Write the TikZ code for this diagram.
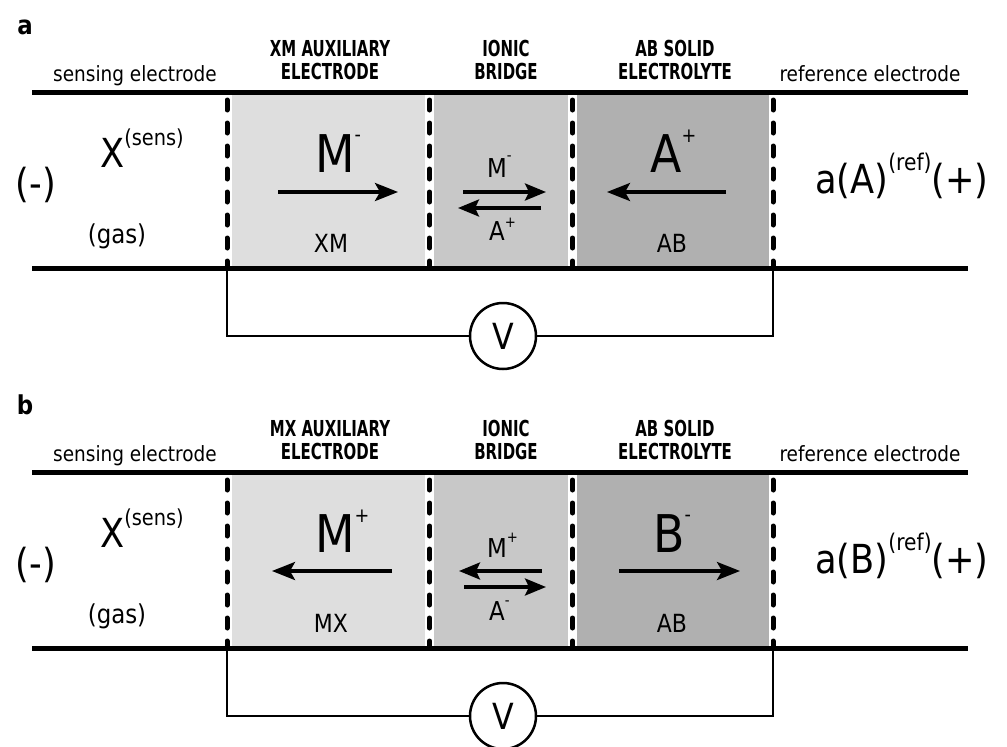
\documentclass[tikz,border=0pt]{standalone}
\usepackage{fontspec}
\setmainfont{DejaVu Sans}[FakeStretch=0.88]
\newfontfamily\hdrfont{DejaVu Sans}[FakeStretch=0.68]
\usetikzlibrary{arrows.meta}
\newcommand\fsz[1]{\fontsize{#1pt}{#1pt}\selectfont}
\definecolor{xmgray}{HTML}{DEDEDE}
\definecolor{brgray}{HTML}{C8C8C8}
\definecolor{abgray}{HTML}{B0B0B0}
\tikzset{
  rail/.style={line width=5pt},
  wire/.style={line width=2.5pt},
  sepline/.style={line width=5pt, dash pattern=on 10pt off 13pt, line cap=round},
  gapline/.style={line width=9pt, white},
  bigarrow/.style={line width=3.5pt, -{Stealth[length=23pt,width=18pt,inset=5pt]}},
  smallarrow/.style={line width=3.5pt, -{Stealth[length=21pt,width=17pt,inset=4pt]}},
  lbl/.style={inner sep=0pt, anchor=base},
  lblw/.style={inner sep=0pt, anchor=base west},
  hdr/.style={inner sep=0pt, anchor=base, align=center, font=\hdrfont\bfseries\fontsize{22pt}{23pt}\selectfont},
  small/.style={font=\fsz{21}},
  meter/.style={circle, draw, line width=2.5pt, minimum size=66pt, inner sep=0pt, font=\fsz{36}, fill=white},
}
\begin{document}
\begin{tikzpicture}[x=1pt,y=-1pt]
\useasboundingbox (0,0) rectangle (1007,747);
\fill[white] (0,0) rectangle (1007,747);

% ================= panel a =================
\begin{scope}
\node[lbl, font=\bfseries\fsz{26}] (a-tag) at (25,34) {a};
\fill[xmgray] (227,92) rectangle (429.5,268);
\fill[brgray] (429.5,92) rectangle (572.5,268);
\fill[abgray] (572.5,92) rectangle (773,268);
\foreach \x/\n in {227/1,429.5/2,572.5/3,773/4}{
  \coordinate (a-s\n-t) at (\x,94);
  \coordinate (a-s\n-b) at (\x,266);
  \draw[gapline] (a-s\n-t) -- (a-s\n-b);
  \draw[sepline] ([yshift=-6pt]a-s\n-t) -- (a-s\n-b);
}
\coordinate (a-tl) at (32,92);
\coordinate (a-tr) at (968,92);
\coordinate (a-bl) at (32,268);
\coordinate (a-br) at (968,268);
\draw[rail] (a-tl) -- (a-tr);
\draw[rail] (a-bl) -- (a-br);
% voltmeter
\coordinate (a-cl) at (227,268);
\coordinate (a-cr) at (773,268);
\node[meter] (a-V) at (503,336) {V};
\draw[wire] (a-cl) |- (a-V.west);
\draw[wire] (a-V.east) -| (a-cr);
% headers
\node[lbl, small] (a-sensing) at (135,81) {sensing electrode};
\node[lbl, small] (a-reference) at (870,81) {reference electrode};
\node[hdr] (a-h1) at (330,79) {XM AUXILIARY\\ELECTRODE};
\node[hdr] (a-h2) at (506,79) {IONIC\\BRIDGE};
\node[hdr] (a-h3) at (675,79) {AB SOLID\\ELECTROLYTE};
% left side
\node[lbl, font=\fsz{40}] (a-minus) at (36,197) {(-)};
\node[lblw] (a-X) at (100,167) {{\fsz{40}X}\raisebox{22pt}{\fsz{22}(sens)}};
\node[lbl, font=\fsz{26}] (a-gas) at (117,243) {(gas)};
% XM box
\node[lblw] (a-M) at (315,172) {{\fsz{52}M}\raisebox{31pt}{\fsz{20}-}};
\coordinate (a-m1) at (278,192);
\coordinate (a-m2) at (398,192);
\draw[bigarrow] (a-m1) -- (a-m2);
\node[lbl, font=\fsz{25}] (a-XM) at (331,252) {XM};
% bridge
\node[lblw] (a-bM) at (487,177) {{\fsz{26}M}\raisebox{17pt}{\fsz{15}-}};
\coordinate (a-b1) at (463,192);
\coordinate (a-b2) at (546,192);
\draw[smallarrow] (a-b1) -- (a-b2);
\coordinate (a-b3) at (541,208);
\coordinate (a-b4) at (458,208);
\draw[smallarrow] (a-b3) -- (a-b4);
\node[lblw] (a-bA) at (489,240) {{\fsz{26}A}\raisebox{13pt}{\fsz{15}+}};
% AB box
\node[lblw] (a-A) at (650,172) {{\fsz{52}A}\raisebox{30pt}{\fsz{20}+}};
\coordinate (a-a1) at (726,192);
\coordinate (a-a2) at (607,192);
\draw[bigarrow] (a-a1) -- (a-a2);
\node[lbl, font=\fsz{25}] (a-AB) at (672,252) {AB};
% right side
\node[lblw] (a-ref) at (815,193) {{\fsz{40}a(A)}\raisebox{23pt}{\fsz{23}(ref)}{\fsz{40}(+)}};
\end{scope}

% ================= panel b =================
\begin{scope}[yshift=-380pt]
\node[lbl, font=\bfseries\fsz{26}] (b-tag) at (25,34) {b};
\fill[xmgray] (227,92) rectangle (429.5,268);
\fill[brgray] (429.5,92) rectangle (572.5,268);
\fill[abgray] (572.5,92) rectangle (773,268);
\foreach \x/\n in {227/1,429.5/2,572.5/3,773/4}{
  \coordinate (b-s\n-t) at (\x,94);
  \coordinate (b-s\n-b) at (\x,266);
  \draw[gapline] (b-s\n-t) -- (b-s\n-b);
  \draw[sepline] ([yshift=-6pt]b-s\n-t) -- (b-s\n-b);
}
\coordinate (b-tl) at (32,92);
\coordinate (b-tr) at (968,92);
\coordinate (b-bl) at (32,268);
\coordinate (b-br) at (968,268);
\draw[rail] (b-tl) -- (b-tr);
\draw[rail] (b-bl) -- (b-br);
% voltmeter
\coordinate (b-cl) at (227,268);
\coordinate (b-cr) at (773,268);
\node[meter] (b-V) at (503,336) {V};
\draw[wire] (b-cl) |- (b-V.west);
\draw[wire] (b-V.east) -| (b-cr);
% headers
\node[lbl, small] (b-sensing) at (135,81) {sensing electrode};
\node[lbl, small] (b-reference) at (870,81) {reference electrode};
\node[hdr] (b-h1) at (330,79) {MX AUXILIARY\\ELECTRODE};
\node[hdr] (b-h2) at (506,79) {IONIC\\BRIDGE};
\node[hdr] (b-h3) at (675,79) {AB SOLID\\ELECTROLYTE};
% left side
\node[lbl, font=\fsz{40}] (b-minus) at (36,197) {(-)};
\node[lblw] (b-X) at (100,167) {{\fsz{40}X}\raisebox{22pt}{\fsz{22}(sens)}};
\node[lbl, font=\fsz{26}] (b-gas) at (117,243) {(gas)};
% MX box
\node[lblw] (b-M) at (315,172) {{\fsz{52}M}\raisebox{30pt}{\fsz{20}+}};
\coordinate (b-m1) at (392,191);
\coordinate (b-m2) at (272,191);
\draw[bigarrow] (b-m1) -- (b-m2);
\node[lbl, font=\fsz{25}] (b-MX) at (331,252) {MX};
% bridge
\node[lblw] (b-bM) at (487,177) {{\fsz{26}M}\raisebox{15pt}{\fsz{15}+}};
\coordinate (b-b1) at (542,191);
\coordinate (b-b2) at (459,191);
\draw[smallarrow] (b-b1) -- (b-b2);
\coordinate (b-b3) at (464,207);
\coordinate (b-b4) at (546,207);
\draw[smallarrow] (b-b3) -- (b-b4);
\node[lblw] (b-bA) at (489,240) {{\fsz{26}A}\raisebox{15pt}{\fsz{15}-}};
% AB box
\node[lblw] (b-B) at (653,172) {{\fsz{52}B}\raisebox{31pt}{\fsz{20}-}};
\coordinate (b-a1) at (619,191);
\coordinate (b-a2) at (740,191);
\draw[bigarrow] (b-a1) -- (b-a2);
\node[lbl, font=\fsz{25}] (b-AB) at (672,252) {AB};
% right side
\node[lblw] (b-ref) at (815,193) {{\fsz{40}a(B)}\raisebox{23pt}{\fsz{23}(ref)}{\fsz{40}(+)}};
\end{scope}
\end{tikzpicture}
\end{document}
